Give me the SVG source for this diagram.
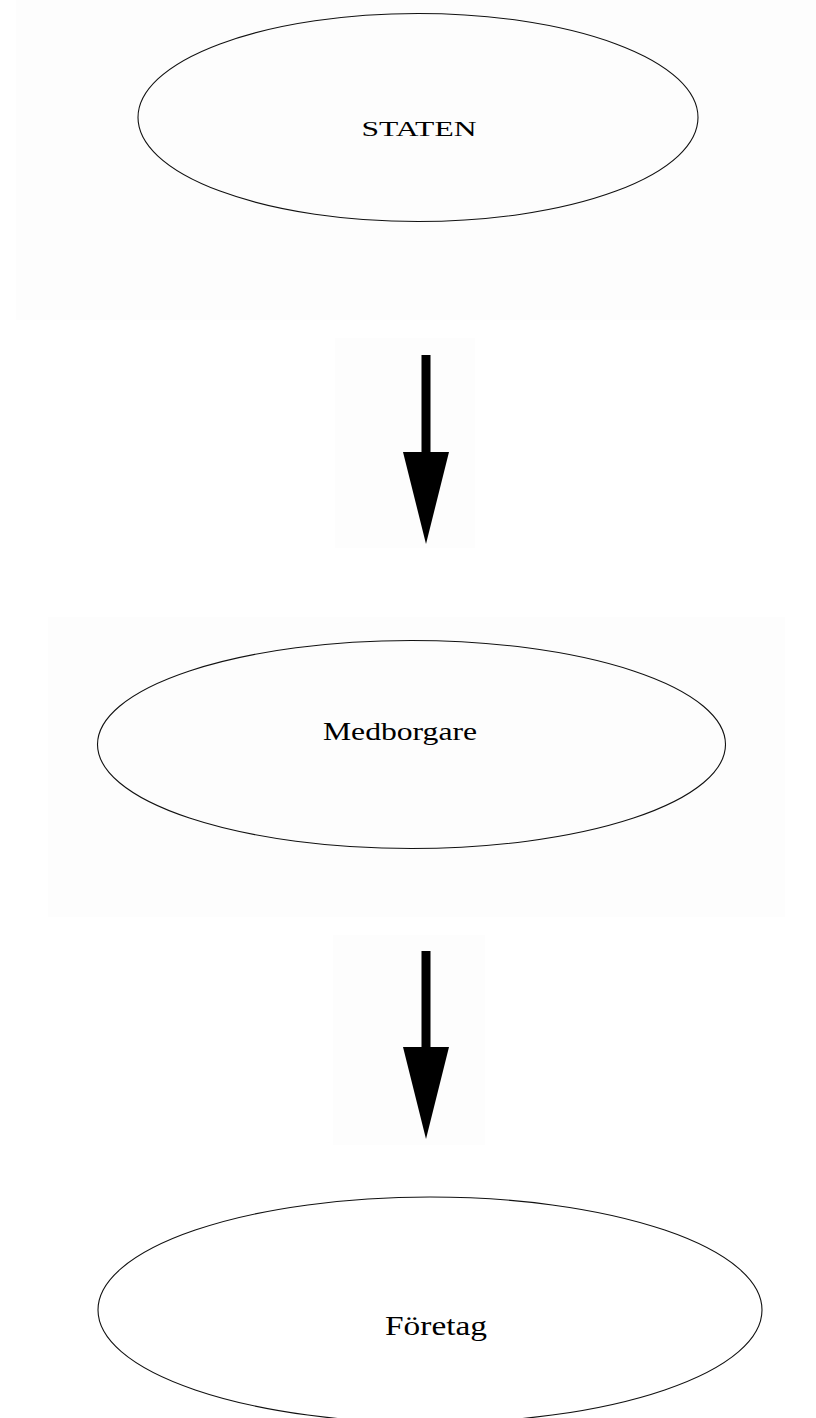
<svg xmlns="http://www.w3.org/2000/svg" width="816" height="1418" viewBox="0 0 816 1418">
<style>
.bg{fill:#fdfdfd;stroke:none}
.node ellipse{fill:none;stroke:#111;stroke-width:1.1}
.node text{font-family:"Liberation Serif","Times New Roman",serif;fill:#000;text-anchor:middle}
.arrow{fill:#000;stroke:none}
</style>
<rect width="816" height="1418" fill="#fff"/>
<g id="backgrounds">
<rect class="bg" x="16" y="0" width="800" height="320"/>
<rect class="bg" x="335" y="338" width="140" height="210"/>
<rect class="bg" x="48" y="617" width="737" height="300"/>
<rect class="bg" x="333" y="935" width="152" height="210"/>
</g>
<g id="node-staten" class="node">
<ellipse cx="418" cy="117.5" rx="280" ry="104"/>
<text x="419" y="136" font-size="20" textLength="115" lengthAdjust="spacingAndGlyphs">STATEN</text>
</g>
<g id="node-medborgare" class="node">
<ellipse cx="411.5" cy="744.5" rx="314" ry="104"/>
<text x="400" y="739.5" font-size="25" textLength="154" lengthAdjust="spacingAndGlyphs">Medborgare</text>
</g>
<g id="node-foretag" class="node">
<ellipse cx="430" cy="1310" rx="332" ry="113"/>
<text x="436" y="1335" font-size="28" textLength="102" lengthAdjust="spacingAndGlyphs">Företag</text>
</g>
<g id="connectors">
<g id="arrow-staten-medborgare">
<rect class="arrow" x="421.5" y="355" width="9" height="99"/>
<polygon class="arrow" points="403,452 449,452 426,544"/>
</g>
<g id="arrow-medborgare-foretag">
<rect class="arrow" x="421.5" y="951" width="9" height="98"/>
<polygon class="arrow" points="403,1047 449,1047 426,1139"/>
</g>
</g>
</svg>
